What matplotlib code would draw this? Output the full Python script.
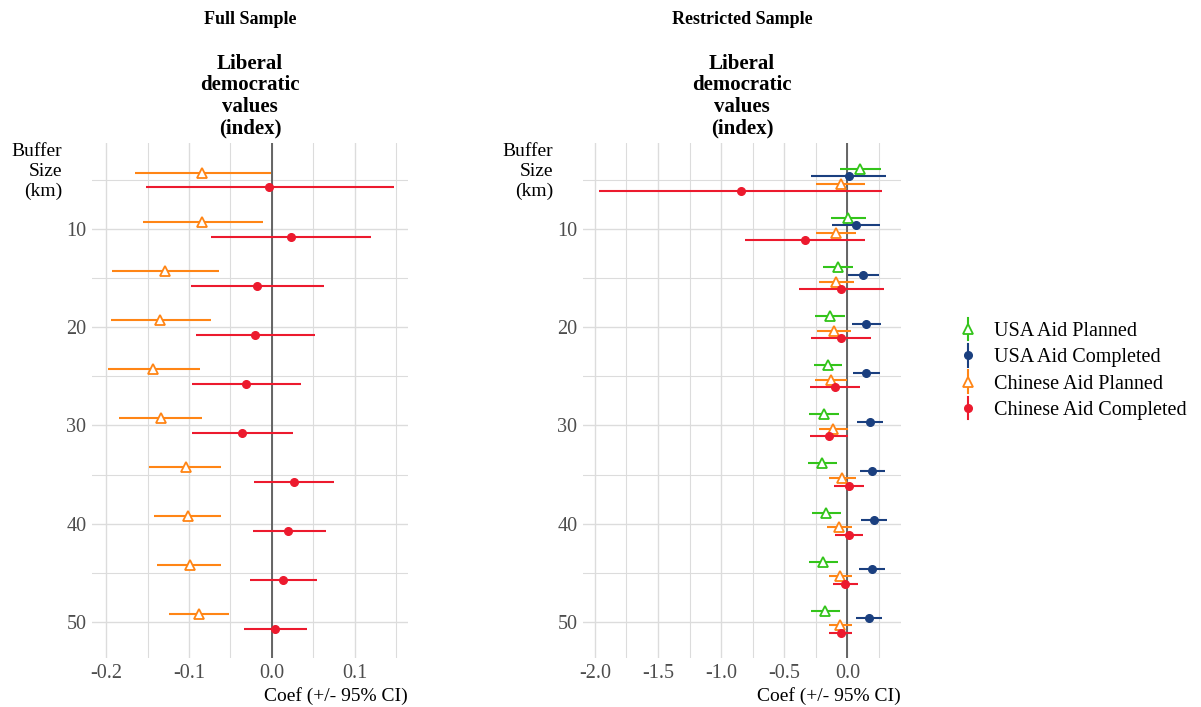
"""Coefficient plot: aid projects and liberal democratic values by buffer size."""

from __future__ import annotations

import matplotlib

matplotlib.use("Agg")
import matplotlib.pyplot as plt
import numpy as np
from matplotlib.legend_handler import HandlerLine2D
from matplotlib.lines import Line2D
from matplotlib.ticker import MultipleLocator

plt.rcParams["font.family"] = ["Liberation Serif", "DejaVu Serif"]

OUT_PNG = "out.png"

BUFFERS = [5, 10, 15, 20, 25, 30, 35, 40, 45, 50]

# Full sample: Chinese aid only
FULL_CN_PLANNED_EST = [-0.084, -0.084, -0.129, -0.135, -0.143, -0.134, -0.104, -0.101, -0.099, -0.088]
FULL_CN_PLANNED_LO = [-0.165, -0.156, -0.193, -0.194, -0.198, -0.185, -0.148, -0.142, -0.138, -0.124]
FULL_CN_PLANNED_HI = [-0.001, -0.011, -0.064, -0.074, -0.087, -0.084, -0.061, -0.061, -0.061, -0.052]

FULL_CN_COMPLETED_EST = [-0.003, 0.023, -0.018, -0.020, -0.031, -0.036, 0.027, 0.020, 0.013, 0.004]
FULL_CN_COMPLETED_LO = [-0.152, -0.073, -0.098, -0.092, -0.096, -0.096, -0.022, -0.023, -0.027, -0.034]
FULL_CN_COMPLETED_HI = [0.147, 0.119, 0.063, 0.052, 0.035, 0.025, 0.075, 0.065, 0.054, 0.042]

# Restricted sample: USA and Chinese aid
RES_US_PLANNED_EST = [0.103, 0.008, -0.074, -0.140, -0.156, -0.185, -0.198, -0.166, -0.193, -0.177]
RES_US_PLANNED_LO = [-0.061, -0.132, -0.190, -0.256, -0.267, -0.301, -0.314, -0.280, -0.306, -0.291]
RES_US_PLANNED_HI = [0.264, 0.148, 0.048, -0.021, -0.040, -0.069, -0.085, -0.050, -0.077, -0.061]

RES_US_COMPLETED_EST = [0.013, 0.066, 0.127, 0.148, 0.148, 0.180, 0.195, 0.209, 0.195, 0.172]
RES_US_COMPLETED_LO = [-0.285, -0.119, 0.003, 0.034, 0.042, 0.079, 0.098, 0.111, 0.095, 0.066]
RES_US_COMPLETED_HI = [0.306, 0.256, 0.251, 0.264, 0.259, 0.283, 0.296, 0.312, 0.296, 0.277]

RES_CN_PLANNED_EST = [-0.053, -0.092, -0.087, -0.108, -0.129, -0.111, -0.040, -0.063, -0.055, -0.055]
RES_CN_PLANNED_LO = [-0.246, -0.246, -0.222, -0.238, -0.254, -0.227, -0.145, -0.164, -0.148, -0.143]
RES_CN_PLANNED_HI = [0.140, 0.066, 0.053, 0.029, -0.003, 0.003, 0.069, 0.040, 0.040, 0.034]

RES_CN_COMPLETED_EST = [-0.845, -0.333, -0.048, -0.048, -0.098, -0.145, 0.013, 0.013, -0.016, -0.053]
RES_CN_COMPLETED_LO = [-1.968, -0.808, -0.383, -0.285, -0.296, -0.296, -0.106, -0.098, -0.111, -0.143]
RES_CN_COMPLETED_HI = [0.277, 0.143, 0.291, 0.190, 0.103, 0.003, 0.132, 0.127, 0.085, 0.040]

COLORS = {
    "USA Aid Planned": "#33c41a",
    "USA Aid Completed": "#1a3f7f",
    "Chinese Aid Planned": "#ff8515",
    "Chinese Aid Completed": "#ec1a2e",
}
MARKERS = {
    "USA Aid Planned": "^",
    "USA Aid Completed": "o",
    "Chinese Aid Planned": "^",
    "Chinese Aid Completed": "o",
}

TICK_COLOR = "#4d4d4d"
GRID_COLOR = "#dcdcdc"
TRI_MS = 7
DOT_MS = 5.5


def marker_kw(name):
    color = COLORS[name]
    if MARKERS[name] == "^":
        return dict(marker="^", ms=TRI_MS, mfc="white", mec=color, mew=1.3)
    return dict(marker="o", ms=DOT_MS, mfc=color, mec=color)


def draw_series(ax, series):
    n = len(series)
    width = 3.0  # total dodge width in buffer units
    for i, (name, est, lo, hi) in enumerate(series):
        offset = (i - (n - 1) / 2) * width / n
        y = np.array(BUFFERS, dtype=float) + offset
        ax.hlines(y, lo, hi, color=COLORS[name], lw=1.5, zorder=3)
        ax.plot(est, y, ls="none", zorder=4, **marker_kw(name))


def style_axes(ax, xlim, major, minor):
    ax.set_xlim(*xlim)
    ax.set_ylim(53.7, 1.25)
    for s in ax.spines.values():
        s.set_visible(False)
    ax.xaxis.set_major_locator(MultipleLocator(major))
    ax.xaxis.set_minor_locator(MultipleLocator(minor))
    ax.yaxis.set_major_locator(MultipleLocator(10))
    ax.yaxis.set_minor_locator(MultipleLocator(5))
    ax.grid(which="major", color=GRID_COLOR, lw=1.0, zorder=0)
    ax.grid(which="minor", color=GRID_COLOR, lw=0.8, zorder=0)
    ax.set_axisbelow(True)
    ax.tick_params(which="both", length=0, labelsize=14.5, labelcolor=TICK_COLOR, pad=4)
    ax.xaxis.set_major_formatter(
        plt.FuncFormatter(lambda v, p: f"{v:.1f}".replace("-0.0", "0.0")))
    ax.set_yticks([10, 20, 30, 40, 50])
    ax.axvline(0, color="#5a5a5a", lw=1.3, zorder=2)
    ax.set_xlabel("Coef (+/- 95% CI)", fontsize=14, loc="right", labelpad=3)


class VerticalHandler(HandlerLine2D):
    """Legend key drawn as a vertical pointrange."""

    def create_artists(self, legend, orig_handle, xdescent, ydescent,
                       width, height, fontsize, trans):
        cx = width / 2 - xdescent
        line = Line2D([cx, cx], [-ydescent - 0.3 * height, height * 1.3 - ydescent])
        self.update_prop(line, orig_handle, legend)
        line.set_marker("")
        line.set_transform(trans)
        mark = Line2D([cx], [height / 2 - ydescent])
        self.update_prop(mark, orig_handle, legend)
        mark.set_linestyle("none")
        mark.set_transform(trans)
        return [line, mark]


def build_figure() -> plt.Figure:
    fig = plt.figure(figsize=(12.01, 7.07), dpi=100)
    ax_full = fig.add_axes([0.0766, 0.0693, 0.263, 0.728])
    ax_res = fig.add_axes([0.4854, 0.0693, 0.2648, 0.728])

    draw_series(ax_full, [
        ("Chinese Aid Planned", FULL_CN_PLANNED_EST, FULL_CN_PLANNED_LO, FULL_CN_PLANNED_HI),
        ("Chinese Aid Completed", FULL_CN_COMPLETED_EST, FULL_CN_COMPLETED_LO, FULL_CN_COMPLETED_HI),
    ])
    draw_series(ax_res, [
        ("USA Aid Planned", RES_US_PLANNED_EST, RES_US_PLANNED_LO, RES_US_PLANNED_HI),
        ("USA Aid Completed", RES_US_COMPLETED_EST, RES_US_COMPLETED_LO, RES_US_COMPLETED_HI),
        ("Chinese Aid Planned", RES_CN_PLANNED_EST, RES_CN_PLANNED_LO, RES_CN_PLANNED_HI),
        ("Chinese Aid Completed", RES_CN_COMPLETED_EST, RES_CN_COMPLETED_LO, RES_CN_COMPLETED_HI),
    ])

    style_axes(ax_full, (-0.217, 0.164), 0.1, 0.05)
    style_axes(ax_res, (-2.094, 0.425), 0.5, 0.25)

    for ax, title in ((ax_full, "Full Sample"), (ax_res, "Restricted Sample")):
        pos = ax.get_position()
        cx = pos.x0 + pos.width / 2
        fig.text(cx, 1 - 20 / 707, title, ha="center", va="center",
                 fontsize=13, fontweight="bold")
        fig.text(cx, 1 - 96 / 707, "Liberal\ndemocratic\nvalues\n(index)", ha="center",
                 va="center", fontsize=15, fontweight="bold", linespacing=1.1)
        fig.text(pos.x0 - 30 / 1201, 1 - 143 / 707, "Buffer\nSize\n(km)",
                 ha="right", va="top", fontsize=14, linespacing=1.2)

    labels = list(COLORS)
    handles = [Line2D([], [], color=COLORS[name], lw=1.5, **marker_kw(name))
               for name in labels]
    fig.legend(handles, labels, loc="center left",
               bbox_to_anchor=(940 / 1201, 1 - 371 / 707), frameon=False,
               fontsize=14.5, handlelength=1.0, handletextpad=0.8,
               labelspacing=0.36,
               handler_map={h: VerticalHandler() for h in handles})
    return fig


def main() -> None:
    fig = build_figure()
    fig.savefig(OUT_PNG, dpi=100)
    plt.close(fig)


if __name__ == "__main__":
    main()
